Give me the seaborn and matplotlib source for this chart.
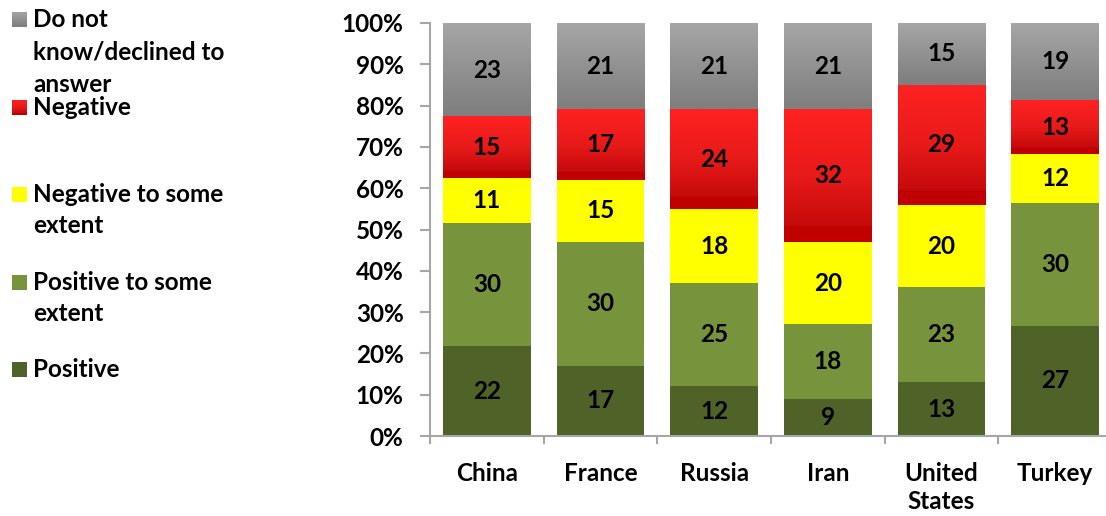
import numpy as np
import matplotlib
matplotlib.use("Agg")
import matplotlib.pyplot as plt
import seaborn as sns
from matplotlib.ticker import PercentFormatter

# ---------------- data ----------------
countries = ["China", "France", "Russia", "Iran", "United\nStates", "Turkey"]
positive = [22, 17, 12, 9, 13, 27]
positive_some = [30, 30, 25, 18, 23, 30]
negative_some = [11, 15, 18, 20, 20, 12]
negative = [15, 17, 24, 32, 29, 13]
dont_know = [23, 21, 21, 21, 15, 19]

legend_labels = ["Do not\nknow/declined to\nanswer", "Negative",
                 "Negative to some\nextent", "Positive to some\nextent", "Positive"]

# ---------------- style ----------------
sns.set_theme(style="white")
plt.rcParams["font.family"] = ["Lato", "DejaVu Sans"]
plt.rcParams["font.weight"] = "bold"

FS = 17.5
AXIS_GRAY = "#A6A6A6"
col_pos = "#4F6228"
col_pos_some = "#77933C"
col_neg_some = "#FFFF00"
col_neg = "#D01010"
col_dk = "#939393"

W, H = 1106, 516
fig = plt.figure(figsize=(W / 100, H / 100), dpi=100)
ax = fig.add_axes([430 / W, 80 / H, 682 / W, 413 / H])

raw = np.array([positive, positive_some, negative_some, negative, dont_know], dtype=float)
pct = raw / raw.sum(axis=0) * 100
cum = np.cumsum(pct, axis=0)
colors = [col_pos, col_pos_some, col_neg_some, col_neg, col_dk]


def grad_array(stops, n=256):
    """stops: list of (pos, (r,g,b)) from top (0) to bottom (1)"""
    t = np.linspace(0, 1, n)
    ps = [s[0] for s in stops]
    out = np.zeros((n, 1, 3))
    for c in range(3):
        out[:, 0, c] = np.interp(t, ps, [s[1][c] for s in stops])
    return out / 255.0


gray_grad = grad_array([(0, (166, 166, 166)), (0.92, (128, 128, 128)), (1, (128, 128, 128))])
red_grad = grad_array([(0, (255, 34, 34)), (0.5, (232, 26, 26)), (0.88, (198, 10, 10)),
                       (0.885, (192, 0, 0)), (1, (192, 0, 0))])
gradients = {4: gray_grad, 3: red_grad}

BAR_W = 0.774
for k in range(4, -1, -1):
    sns.barplot(x=countries, y=cum[k], color=colors[k], width=BAR_W,
                saturation=1, linewidth=0, ax=ax)
    cont = ax.containers[-1]
    if k in gradients:
        for i, p in enumerate(cont.patches):
            x0 = p.get_x()
            x1 = x0 + p.get_width()
            y1 = p.get_height()
            y0 = cum[k - 1][i]
            ax.imshow(gradients[k], extent=[x0, x1, y0, y1], origin="upper",
                      aspect="auto", interpolation="bilinear", zorder=1.5)

ax.set_xlim(-0.5, 5.5)
ax.set_ylim(0, 100)

# data labels
for k in range(5):
    for i in range(len(countries)):
        ax.text(i, cum[k][i] - pct[k][i] / 2, f"{int(raw[k][i])}", ha="center",
                va="center", fontsize=FS, fontweight="bold", color="black", zorder=4)

# axes styling
for s in ["top", "right"]:
    ax.spines[s].set_visible(False)
for s in ["left", "bottom"]:
    ax.spines[s].set_color(AXIS_GRAY)
    ax.spines[s].set_linewidth(1.5)

ax.set_yticks(np.arange(0, 101, 10))
ax.yaxis.set_major_formatter(PercentFormatter(decimals=0))
ax.tick_params(axis="y", left=True, length=7, width=1.5, color=AXIS_GRAY,
               pad=12, labelsize=FS, labelcolor="black")
ax.set_xticks(range(len(countries)))
ax.set_xticklabels(countries)
ax.set_xticks(np.arange(-0.5, 6, 1), minor=True)
ax.tick_params(axis="x", which="major", bottom=True, length=0, pad=19,
               labelsize=FS, labelcolor="black")
ax.tick_params(axis="x", which="minor", bottom=True, length=6, width=1.5,
               color=AXIS_GRAY)
for lab in ax.get_xticklabels() + ax.get_yticklabels():
    lab.set_fontweight("bold")
    lab.set_linespacing(1.25)
ax.set_xlabel("")
ax.set_ylabel("")
ax.grid(False)

# legend (manual, left side)
legend_colors = [gray_grad, red_grad, col_neg_some, col_pos_some, col_pos]
baselines = [[27, 60, 92], [115], [202, 233], [290, 321], [377]]
for lab, colr, bl in zip(legend_labels, legend_colors, baselines):
    lines = lab.split("\n")
    for line, b in zip(lines, bl):
        fig.text(33 / W, 1 - b / H, line, ha="left", va="baseline",
                 fontsize=FS, fontweight="bold", color="black")
    mb = bl[0]
    max_ = fig.add_axes([12 / W, 1 - mb / H, 15 / W, 15 / H])
    if isinstance(colr, str):
        max_.add_patch(plt.Rectangle((0, 0), 1, 1, color=colr))
        max_.set_xlim(0, 1)
        max_.set_ylim(0, 1)
    else:
        max_.imshow(colr, aspect="auto", extent=[0, 1, 0, 1], origin="upper")
    max_.axis("off")

fig.savefig("out.png", dpi=100)
